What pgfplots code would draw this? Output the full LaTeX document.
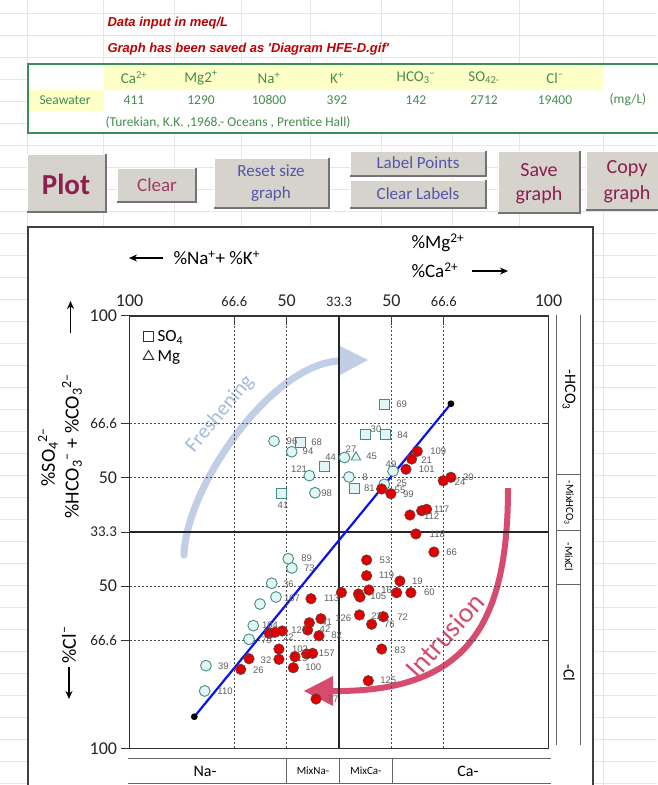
\documentclass[border=0pt]{standalone}
\usepackage{fontspec}
\setmainfont{Carlito}
\newfontfamily\arial{Liberation Sans}
\usepackage{pgfplots}
\pgfplotsset{compat=1.18}
\usetikzlibrary{arrows.meta}

\definecolor{hdrred}{RGB}{192,0,0}
\definecolor{tgreen}{RGB}{60,140,90}
\definecolor{ttext}{RGB}{70,140,80}
\definecolor{tyellow}{RGB}{255,255,200}
\definecolor{btn}{RGB}{214,210,204}
\definecolor{plotc}{RGB}{140,30,80}
\definecolor{clearc}{RGB}{160,60,100}
\definecolor{bluetxt}{RGB}{85,85,170}
\definecolor{cyanedge}{RGB}{70,140,130}
\definecolor{cyanfill}{RGB}{225,246,246}
\definecolor{ptred}{RGB}{225,0,0}
\definecolor{fresh}{RGB}{192,206,230}
\definecolor{freshtxt}{RGB}{165,186,220}
\definecolor{intr}{RGB}{215,75,110}
\definecolor{lbl}{RGB}{95,95,95}
\definecolor{xlgrid}{RGB}{230,230,230}
\definecolor{bline}{RGB}{10,20,230}

\newcommand{\fs}[1]{\fontsize{#1}{#1}\selectfont}

\pgfplotstableread{
x y
1.379 2.841
1.548 2.742
1.716 2.521
1.770 2.363
2.052 2.689
2.095 2.509
2.515 2.564
2.432 2.441
1.515 1.753
1.550 1.667
1.357 1.526
1.398 1.399
1.245 1.334
1.181 1.134
1.140 1.008
0.729 0.764
0.717 0.530
}\cyancircles

\pgfplotstableread{
x y
1.633 2.826
1.856 2.604
1.448 2.354
2.429 3.184
2.254 2.903
2.441 2.903
2.145 2.400
}\cyansquares

\pgfplotstableread{
x y
2.161 2.691
}\cyantri

\pgfplotstableread{
x y
2.747 2.746
2.693 2.675
2.639 2.580
2.407 2.398
2.495 2.354
2.995 2.474
3.068 2.506
2.677 2.157
2.789 2.197
2.836 2.210
2.734 1.982
2.906 1.815
2.263 1.741
2.263 1.596
2.581 1.547
2.023 1.441
2.185 1.427
2.200 1.399
2.285 1.464
2.550 1.439
2.686 1.439
2.195 1.233
2.422 1.217
2.311 1.147
2.407 0.918
2.279 0.625
1.732 1.383
1.716 1.161
1.700 1.094
1.827 1.198
1.808 1.041
1.334 1.063
1.388 1.073
1.458 1.085
1.426 0.918
1.426 0.823
1.140 0.828
1.061 0.730
1.563 0.745
1.579 0.847
1.691 0.872
1.748 0.878
1.780 0.456
}\redpts

\begin{document}
\begin{tikzpicture}
\path[use as bounding box] (0pt,0pt) rectangle (657pt,-785pt);
\begin{scope}[x=1pt,y=-1pt]
% spreadsheet grid
\foreach \yy in {13,35,...,785} \draw[xlgrid,line width=0.6pt] (0,\yy) -- (657,\yy);
\foreach \xx in {27,103,174,241,310,381,452,519,603} \draw[xlgrid,line width=0.6pt] (\xx,0) -- (\xx,785);
% header text
\node[anchor=west,text=hdrred,font=\arial\bfseries\itshape\fs{13}] at (104,23) {Data input in meq/L};
\node[anchor=west,text=hdrred,font=\arial\bfseries\itshape\fs{13}] at (104,49) {Graph has been saved as 'Diagram HFE-D.gif'};
% table
\fill[white] (28,64) rectangle (657,133);
\fill[tyellow] (104,66) rectangle (603,90);
\fill[tyellow] (29,90) rectangle (104,111);
\draw[tgreen,line width=1.8pt] (660,64) -- (28,64) -- (28,133) -- (660,133);
\begin{scope}[every node/.style={text=ttext,font=\fs{15}}]
\node at (134,78) {Ca\textsuperscript{2+}};
\node at (201,78) {Mg2\textsuperscript{+}};
\node at (269,78) {Na\textsuperscript{+}};
\node at (337,78) {K\textsuperscript{+}};
\node at (416,78) {HCO\textsubscript{3}\textsuperscript{--}};
\node at (484,78) {SO\textsubscript{42-}};
\node at (555,78) {Cl\textsuperscript{--}};
\end{scope}
\begin{scope}[every node/.style={text=ttext,font=\fs{13.5}}]
\node at (65,100) {Seawater};
\node at (134,100) {411};
\node at (201,100) {1290};
\node at (269,100) {10800};
\node at (337,100) {392};
\node at (416,100) {142};
\node at (484,100) {2712};
\node at (555,100) {19400};
\node at (628,100) {(mg/L)};
\node[anchor=west] at (102,122) {(Turekian, K.K. ,1968.- Oceans , Prentice Hall)};
\end{scope}
% buttons
\foreach \a/\b/\c/\d in {27/154/106/212, 117/168/196/202, 214/158/329/208, 350/151/486/176, 350/180/486/208, 498/151/580/213, 586/151/660/210}{
  \fill[btn] (\a,\b) rectangle (\c,\d);
  \draw[white,line width=1pt] (\a,\d) -- (\a,\b) -- (\c,\b);
  \draw[black!55,line width=1.5pt] (\a,\d) -- (\c,\d) -- (\c,\b);
}
\node[text=plotc,font=\bfseries\fs{29}] at (66,184) {Plot};
\node[text=clearc,font=\fs{19}] at (157,185) {Clear};
\node[text=bluetxt,font=\fs{17}] at (271,171) {Reset size};
\node[text=bluetxt,font=\fs{17}] at (271,194) {graph};
\node[text=bluetxt,font=\fs{17}] at (418,163) {Label Points};
\node[text=bluetxt,font=\fs{17}] at (418,194) {Clear Labels};
\node[text=plotc,font=\fs{20}] at (539,170) {Save};
\node[text=plotc,font=\fs{20}] at (539,195) {graph};
\node[text=plotc,font=\fs{20}] at (627,169) {Copy};
\node[text=plotc,font=\fs{20}] at (627,194) {graph};
% chart box
\fill[white] (28,227) rectangle (593,790);
\draw[black!75,line width=1.8pt] (28,790) -- (28,227) -- (593,227) -- (593,790);
% axis titles
\draw[-{Stealth[length=8pt,width=7pt]},line width=1.4pt] (163,258) -- (129,258);
\node[anchor=west,font=\fs{19}] at (170,258) {\%Na\textsuperscript{+}+ \%K\textsuperscript{+}};
\node[anchor=west,font=\fs{19}] at (408,243) {\%Mg\textsuperscript{2+}};
\node[anchor=west,font=\fs{19}] at (408,270) {\%Ca\textsuperscript{2+}};
\draw[-{Stealth[length=8pt,width=7pt]},line width=1.4pt] (472,271) -- (508,271);
\draw[-{Stealth[length=8pt,width=7pt]},line width=1.4pt] (70.5,333) -- (70.5,301);
\draw[-{Stealth[length=8pt,width=7pt]},line width=1.4pt] (69,667) -- (69,699);
\node[rotate=90,font=\fs{20}] at (48,457) {\%SO\textsubscript{4}\textsuperscript{2--}};
\node[rotate=90,font=\fs{20}] at (72,446) {\%HCO\textsubscript{3}\textsuperscript{--} + \%CO\textsubscript{3}\textsuperscript{2--}};
\node[rotate=90,font=\fs{20}] at (69,645) {\%Cl\textsuperscript{--}};
% right panel
\draw[black!60,line width=1pt] (556.7,315) -- (556.7,745) (580.7,315) -- (580.7,745);
\draw[black!60,line width=1pt] (556.7,474) -- (580.7,474) (556.7,530) -- (580.7,530) (556.7,584) -- (580.7,584);
\node[rotate=-90,font=\fs{16}] at (569,390) {-HCO\textsubscript{3}};
\node[rotate=-90,font=\fs{11}] at (569,503) {-MixHCO\textsubscript{3}};
\node[rotate=-90,font=\fs{11}] at (569,557) {-MixCl};
\node[rotate=-90,font=\fs{16}] at (569,673) {-Cl};
% bottom panel
\draw[black!60,line width=1pt] (127.5,758) -- (551,758) (127.5,783) -- (551,783);
\draw[black!60,line width=1pt] (286,758) -- (286,783) (339.7,758) -- (339.7,783) (392.7,758) -- (392.7,783);
\node[font=\fs{16}] at (205,771) {Na-};
\node[font=\fs{11}] at (313,771) {MixNa-};
\node[font=\fs{11}] at (366,771) {MixCa-};
\node[font=\fs{16}] at (468,771) {Ca-};
% arcs
\draw[fresh,line width=7pt,line cap=round] (184,555) .. controls (186,485) and (275,360) .. (342,361);
\fill[fresh] (340,346) -- (368,360) -- (340,375) -- cycle;
\node[text=freshtxt,font=\fs{21},rotate=50] at (220,414) {Freshening};
\draw[intr,line width=6pt] (508,488) .. controls (508,628) and (465,693) .. (330,691);
\fill[intr] (333,676) -- (304,691) -- (333,706) -- cycle;
\node[text=intr,font=\fs{28},rotate=48] at (445,635) {Intrusion};
\end{scope}

\begin{axis}[
  at={(129.6pt,-748.3pt)}, anchor=south west,
  scale only axis, width=418.9pt, height=432.6pt,
  xmin=0, xmax=4, ymin=0, ymax=4,
  axis line style={black!80,line width=1.6pt},
  tick align=inside, major tick length=9pt,
  tick style={black!80,line width=1pt},
  xtick={0,1,1.5,2,2.5,3,4},
  xticklabels={\fs{18}100,\fs{14.5}66.6,\fs{18}50,\fs{14.5}33.3,\fs{18}50,\fs{14.5}66.6,\fs{18}100},
  xtick pos=right, xticklabel pos=right,
  xticklabel style={yshift=6pt,text=black!85},
  ytick={0,1,1.5,2,2.5,3,4},
  yticklabels={\fs{18}100,\fs{15}66.6,\fs{18}50,\fs{15}33.3,\fs{18}50,\fs{15}66.6,\fs{18}100},
  ytick pos=left, yticklabel pos=left,
  y tick style={xshift=-9pt},
  yticklabel style={xshift=-9pt,text=black!85},
  legend style={at={(0.025,0.975)},anchor=north west,draw=none,fill=none,nodes={font=\fs{17},inner xsep=4pt},row sep=3pt},
  legend cell align=left,
  clip=false,
]
\addlegendimage{only marks,mark=square,mark size=5pt,black!80,line width=1pt}
\addlegendentry{SO\textsubscript{4}}
\addlegendimage{only marks,mark=triangle,mark size=6pt,black!80,line width=1pt}
\addlegendentry{Mg}
% grid
\draw[black!70,dash pattern=on 2pt off 2pt,line width=0.9pt] (axis cs:1,0) -- (axis cs:1,4);
\draw[black!70,dash pattern=on 2pt off 2pt,line width=0.9pt] (axis cs:1.5,0) -- (axis cs:1.5,4);
\draw[black!70,dash pattern=on 2pt off 2pt,line width=0.9pt] (axis cs:2.5,0) -- (axis cs:2.5,4);
\draw[black!70,dash pattern=on 2pt off 2pt,line width=0.9pt] (axis cs:3,0) -- (axis cs:3,4);
\draw[black!70,dash pattern=on 2pt off 2pt,line width=0.9pt] (axis cs:0,1) -- (axis cs:4,1);
\draw[black!70,dash pattern=on 2pt off 2pt,line width=0.9pt] (axis cs:0,1.5) -- (axis cs:4,1.5);
\draw[black!70,dash pattern=on 2pt off 2pt,line width=0.9pt] (axis cs:0,2.5) -- (axis cs:4,2.5);
\draw[black!70,dash pattern=on 2pt off 2pt,line width=0.9pt] (axis cs:0,3) -- (axis cs:4,3);
\draw[black!85,line width=1.3pt] (axis cs:2,0) -- (axis cs:2,4);
\draw[black!85,line width=1.3pt] (axis cs:0,2) -- (axis cs:4,2);
% right-hand ticks
\draw[black!80,line width=1pt] (axis cs:4,1) -- ++(-5pt,0) (axis cs:4,1.5) -- ++(-5pt,0) (axis cs:4,2.5) -- ++(-5pt,0) (axis cs:4,3) -- ++(-5pt,0);
% mixing line
\addplot[bline,line width=2.2pt,mark=*,mark size=2.2pt,mark options={fill=black,draw=black}] coordinates {(0.618,0.292) (3.068,3.186)};
% samples
\addplot[only marks,mark=*,mark size=5.4pt,mark options={fill=cyanfill,draw=cyanedge,line width=0.9pt}] table {\cyancircles};
\addplot[only marks,mark=square*,mark size=5pt,mark options={fill=cyanfill,draw=cyanedge,line width=0.9pt}] table {\cyansquares};
\addplot[only marks,mark=triangle*,mark size=5.5pt,mark options={fill=cyanfill,draw=cyanedge,line width=0.9pt}] table {\cyantri};
\addplot[only marks,mark=*,mark size=5.3pt,mark options={fill=ptred,draw=black!70,line width=0.5pt}] table {\redpts};
\end{axis}

\begin{scope}[x=1pt,y=-1pt,every node/.style={font=\arial\fs{9.5},text=lbl,inner sep=0pt}]
% labels of points
\node at (292,441) {96};
\node at (316.7,442.7) {68};
\node at (308,451.7) {94};
\node at (299,469) {121};
\node at (330.7,457) {44};
\node at (283,505) {41};
\node at (326.7,493) {98};
\node at (351,449) {27};
\node at (371.7,456) {45};
\node at (365,477.3) {8};
\node at (369.3,488.7) {81};
\node at (391,464.3) {49};
\node at (401.7,483.3) {25};
\node at (401.7,404.7) {69};
\node at (376,429.3) {30};
\node at (402.7,435) {84};
\node at (306.7,558.7) {89};
\node at (309.3,568) {73};
\node at (288.3,584) {36};
\node at (292,598.5) {107};
\node at (270,625.7) {104};
\node at (223.3,666.7) {39};
\node at (225,691.7) {110};
\node at (438.3,451.7) {109};
\node at (426.7,460) {21};
\node at (426.7,469.3) {101};
\node at (400,490.5) {55};
\node at (408.3,494.5) {99};
\node at (460,481.7) {24};
\node at (468.3,477.7) {20};
\node at (431.7,515.7) {112};
\node at (441.7,509.3) {117};
\node at (437.3,534) {118};
\node at (451.7,552.7) {66};
\node at (385,560) {53};
\node at (386.7,575.7) {119};
\node at (417.3,581.7) {19};
\node at (386.7,590) {16};
\node at (378.3,596) {105};
\node at (429.3,592.7) {60};
\node at (376.7,616) {22};
\node at (402.7,617.3) {72};
\node at (389.3,624.3) {76};
\node at (400,650) {83};
\node at (388.3,680.7) {125};
\node at (331.7,598.7) {113};
\node at (343.3,618.3) {126};
\node at (326.7,622.7) {41};
\node at (325,629.3) {42};
\node at (336.7,635) {82};
\node at (266.7,640) {79};
\node at (288.3,637.3) {22};
\node at (299.3,630) {127};
\node at (300,649) {102};
\node at (266,660) {32};
\node at (258.3,670) {26};
\node at (313.3,667.7) {100};
\node at (326.7,653.3) {157};
\node at (302,658) {15};
\node at (333,699) {77};
\end{scope}
\end{tikzpicture}
\end{document}
